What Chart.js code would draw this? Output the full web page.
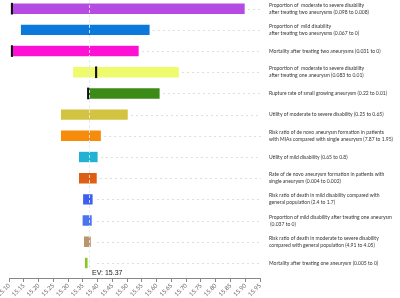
<!DOCTYPE html>
<html>
<head>
<meta charset="utf-8">
<script src="https://cdn.jsdelivr.net/npm/chart.js@4.4.1/dist/chart.umd.min.js"></script>
<style>
html,body{margin:0;padding:0;background:#fff;}
#wrap{width:400px;height:298px;position:relative;}
</style>
</head>
<body>
<div id="wrap"><canvas id="c" width="400" height="298"></canvas></div>
<script>
const categories = [
  ["Proportion of  moderate to severe disability", "after treating two aneurysms (0.098 to 0.008)"],
  ["Proportion of  mild disability", "after treating two aneurysms (0.067 to 0)"],
  ["Mortality after treating two aneurysms (0.031 to 0)"],
  ["Proportion of  moderate to severe disability", "after treating one aneurysm (0.083 to 0.01)"],
  ["Rupture rate of small growing aneurysm (0.22 to 0.01)"],
  ["Utility of moderate to severe disability (0.25 to 0.65)"],
  ["Risk ratio of de novo aneurysm formation in patients", "with MIAs compared with single aneurysm (7.87 to 1.95)"],
  ["Utility of mild disability (0.65 to 0.8)"],
  ["Rate of de novo aneurysm formation in patients with", "single aneurysm (0.004 to 0.002)"],
  ["Risk ratio of death in mild disability compared with", "general population (2.4 to 1.7)"],
  ["Proportion of mild disability after treating one aneurysm", " (0.037 to 0)"],
  ["Risk ratio of death in moderate to severe disability", "compared with general population (4.91 to 4.05)"],
  ["Mortality after treating one aneurysm (0.005 to 0)"]
];
const lowValues  = [15.110, 15.140, 15.110, 15.317, 15.368, 15.276, 15.276, 15.337, 15.337, 15.351, 15.349, 15.354, 15.357];
const highValues = [15.899, 15.577, 15.540, 15.676, 15.611, 15.503, 15.412, 15.401, 15.398, 15.384, 15.381, 15.378, 15.367];
const markerValues = [15.110, null, 15.110, 15.395, 15.368, null, null, null, null, null, null, null, null];
const barColors = ["#b54be3", "#0b78dc", "#fd0fd4", "#eefc6c", "#3d8b17", "#d4c341", "#f68b0c",
                   "#22b2d4", "#de5f14", "#3c5ef2", "#4b73f0", "#b8956a", "#86c820"];
const xTickLabels = ["15.10","15.15","15.20","15.25","15.30","15.35","15.40","15.45","15.50",
                     "15.55","15.60","15.65","15.70","15.75","15.80","15.85","15.90","15.95"];
const expectedValue = 15.37;
const markerHalfWidth = 0.0025;
const leaderMinStart = 15.398;

const barData = categories.map((c, i) => ({ y: i, x: [lowValues[i], highValues[i]] }));
const markerData = markerValues.map((m, i) => m === null ? { y: i, x: null } : { y: i, x: [m - markerHalfWidth, m + markerHalfWidth] });

const leaderPlugin = {
  id: 'leaders',
  beforeDatasetsDraw(chart) {
    const ctx = chart.ctx;
    const xs = chart.scales.x, ys = chart.scales.y;
    ctx.save();
    ctx.strokeStyle = '#dedede';
    ctx.lineWidth = 1;
    ctx.setLineDash([2, 3]);
    highValues.forEach((h, i) => {
      const y = Math.round(ys.getPixelForValue(i)) + 0.5;
      const x0 = Math.max(xs.getPixelForValue(h) + 3, xs.getPixelForValue(leaderMinStart));
      ctx.beginPath();
      ctx.moveTo(x0, y);
      ctx.lineTo(chart.chartArea.right + 1, y);
      ctx.stroke();
    });
    ctx.restore();
  }
};

const evPlugin = {
  id: 'evLine',
  afterDatasetsDraw(chart) {
    const ctx = chart.ctx;
    const xs = chart.scales.x;
    const px = Math.round(xs.getPixelForValue(expectedValue)) + 0.5;
    ctx.save();
    ctx.strokeStyle = 'rgba(228,231,238,0.9)';
    ctx.lineWidth = 1;
    ctx.setLineDash([3, 2]);
    ctx.beginPath();
    ctx.moveTo(px, chart.chartArea.top);
    ctx.lineTo(px, chart.chartArea.bottom - 10);
    ctx.stroke();
    ctx.setLineDash([]);
    ctx.fillStyle = '#222';
    ctx.font = '7px "Liberation Sans", Arial, sans-serif';
    ctx.textBaseline = 'alphabetic';
    ctx.fillText('EV: ' + expectedValue.toFixed(2), px + 2.5, chart.chartArea.bottom - 3);
    ctx.restore();
  }
};

new Chart(document.getElementById('c'), {
  type: 'bar',
  data: {
    datasets: [
      { data: markerData, backgroundColor: '#111', barThickness: 11, grouped: false, order: 0 },
      { data: barData, backgroundColor: barColors, borderColor: 'rgba(255,255,255,0.35)', borderWidth: 0.6, barThickness: 11, grouped: false, order: 1 }
    ]
  },
  options: {
    indexAxis: 'y',
    responsive: false,
    animation: false,
    devicePixelRatio: 1,
    layout: { padding: { left: 9, right: 0, top: 0, bottom: 0 } },
    plugins: { legend: { display: false }, tooltip: { enabled: false } },
    scales: {
      x: {
        type: 'linear', position: 'bottom', min: 15.10, max: 15.95, offset: false,
        afterBuildTicks(scale) { scale.ticks = xTickLabels.map(t => ({ value: parseFloat(t) })); },
        afterFit(scale) { scale.height = 20; scale.paddingLeft = 0; scale.paddingRight = 0; },
        grid: { drawOnChartArea: false, drawTicks: true, tickLength: 4, color: '#888', offset: false },
        border: { display: true, color: '#888', width: 1 },
        ticks: { autoSkip: false, minRotation: 45, maxRotation: 45, padding: 0, color: '#666',
          font: { size: 6, family: 'Lato, "DejaVu Sans", sans-serif' }, callback: (v, i) => xTickLabels[i] }
      },
      y: {
        type: 'linear', position: 'right', reverse: true, min: -0.41, max: 12.71, offset: false,
        afterBuildTicks(scale) { scale.ticks = categories.map((c, i) => ({ value: i })); },
        afterFit(scale) { scale.width = 140; scale.paddingTop = 0; scale.paddingBottom = 0; },
        grid: { drawOnChartArea: false, drawTicks: false, offset: false },
        border: { display: false },
        ticks: { autoSkip: false, padding: 9, color: '#333',
          font: { size: 5, family: 'Lato, "DejaVu Sans", sans-serif', lineHeight: 1.4 },
          callback: (v) => categories[Math.round(v)] }
      }
    }
  },
  plugins: [leaderPlugin, evPlugin]
});
</script>
</body>
</html>
